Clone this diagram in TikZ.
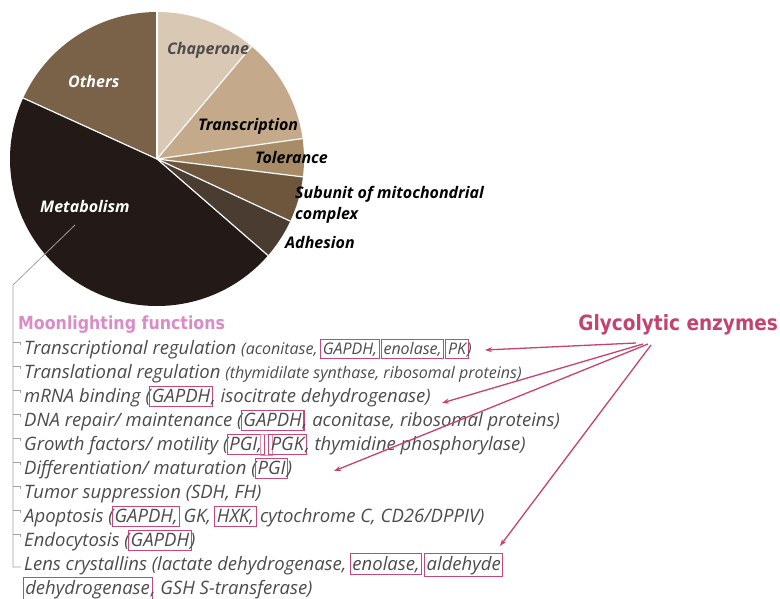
\documentclass[tikz,border=0pt]{standalone}
\usepackage{fontspec}
\setmainfont{Open Sans}
\newfontfamily\headfont[FakeStretch=0.88]{DejaVu Sans}
\usetikzlibrary{arrows.meta}
\definecolor{cA}{HTML}{D8C8B4}
\definecolor{cB}{HTML}{C4AA8A}
\definecolor{cC}{HTML}{A88C68}
\definecolor{cD}{HTML}{6E563C}
\definecolor{cE}{HTML}{4A3C30}
\definecolor{cF}{HTML}{231916}
\definecolor{cG}{HTML}{7A6248}
\definecolor{txt}{HTML}{4C4C4C}
\definecolor{boxc}{HTML}{C4497A}
\definecolor{arrc}{HTML}{C8426F}
\definecolor{moon}{HTML}{D98CC6}
\definecolor{glyc}{HTML}{C4436E}
\definecolor{treec}{HTML}{A0A0A0}
\newcommand\bx[1]{{\setlength\fboxsep{1.6pt}\setlength\fboxrule{1.1pt}\kern-1.6pt\textcolor{boxc}{\fbox{\textcolor{txt}{\rule[-2.6pt]{0pt}{15pt}#1}}}\kern-1.6pt}}
\newcommand\thinbx[1]{{\setlength\fboxsep{2.5pt}\setlength\fboxrule{0.5pt}\kern-3pt\textcolor{boxc!60}{\fbox{\rule[-2.6pt]{0pt}{16pt}#1}}\kern-3pt}}
\newcommand\lst{\fontsize{18.5}{22}\selectfont\itshape}
\newcommand\sml{\fontsize{16}{18}\selectfont}
\begin{document}
\begin{tikzpicture}[x=1pt,y=-1pt,
  item/.style={anchor=base west,inner sep=0pt,text=txt,font=\lst},
  plabel/.style={anchor=west,inner sep=0pt,font=\fontsize{16}{21}\selectfont\bfseries\itshape},
  tree/.style={draw=treec,line width=0.8pt},
  garrow/.style={draw=arrc,line width=1.3pt,-{Stealth[length=7pt,width=5pt]}},
  sep/.style={draw=white,line width=1.2pt}]
\useasboundingbox (0,0) rectangle (780,599);
\fill[white] (0,0) rectangle (780,599);
% pie
\begin{scope}[shift={(157,159)},y=1pt]
  \fill[cA] (0,0) -- (90:147) arc[start angle=90,end angle=50,radius=147] -- cycle;
  \fill[cB] (0,0) -- (50:147) arc[start angle=50,end angle=8,radius=147] -- cycle;
  \fill[cC] (0,0) -- (8:147) arc[start angle=8,end angle=-7,radius=147] -- cycle;
  \fill[cD] (0,0) -- (-7:147) arc[start angle=-7,end angle=-25,radius=147] -- cycle;
  \fill[cE] (0,0) -- (-25:147) arc[start angle=-25,end angle=-41,radius=147] -- cycle;
  \fill[cF] (0,0) -- (-41:147) arc[start angle=-41,end angle=-204.5,radius=147] -- cycle;
  \fill[cG] (0,0) -- (155.5:147) arc[start angle=155.5,end angle=90,radius=147] -- cycle;
  \foreach \a in {90,50,8,-7,-25,-41,155.5} \draw[sep] (0,0) -- (\a:147);
\end{scope}
% pie labels
\node[plabel,text=black!70] (pch) at (167,50) {Chaperone};
\node[plabel,text=white] (pot) at (68,82) {Others};
\node[plabel,text=black] (ptr) at (198,126) {Transcription};
\node[plabel,text=black] (pto) at (255,158) {Tolerance};
\node[plabel,text=black,align=left] (psu) at (295,204.5) {Subunit of mitochondrial\\complex};
\node[plabel,text=black] (pad) at (285,242) {Adhesion};
\node[plabel,text=white] (pme) at (40,207) {Metabolism};
% tree
\coordinate (t0) at (75,225);
\coordinate (t1) at (13,285);
\coordinate (t2) at (13,567);
\coordinate (t3) at (21,567);
\draw[tree] (t0) -- (t1) -- (t2) -- (t3);
\foreach \y in {354,378,402,426,450,474,498,522,546} \draw[tree] (13,\y-12) -- (20,\y-12) -- (20,\y-9);
% headings
\node[anchor=base west,inner sep=0pt,text=moon,font=\headfont\bfseries\fontsize{18}{20}\selectfont] (moonh) at (18,329) {Moonlighting functions};
\node[anchor=base east,inner sep=0pt,text=glyc,font=\headfont\bfseries\fontsize{21}{23}\selectfont] (glych) at (778,330) {Glycolytic enzymes};
% list
\node[item] (l1) at (24,354) {Transcriptional regulation {\sml(aconitase, \bx{GAPDH,} \bx{enolase,} \bx{PK})}};
\node[item] (l2) at (24,378) {Translational regulation {\sml(thymidilate synthase, ribosomal proteins)}};
\node[item] (l3) at (24,402) {mRNA binding (\bx{GAPDH}, isocitrate dehydrogenase)};
\node[item] (l4) at (24,426) {DNA repair/ maintenance (\bx{GAPDH}, aconitase, ribosomal proteins)};
\node[item] (l5) at (24,450) {Growth factors/ motility (\bx{PGI,}\thinbx{\hspace*{0.35em}}\bx{PGK}, thymidine phosphorylase)};
\node[item] (l6) at (24,474) {Differentiation/ maturation (\bx{PGI})};
\node[item] (l7) at (24,498) {Tumor suppression (SDH, FH)};
\node[item] (l8) at (24,522) {Apoptosis (\bx{GAPDH,} GK, \bx{HXK,} cytochrome C, CD26/DPPIV)};
\node[item] (l9) at (24,546) {Endocytosis (\bx{GAPDH})};
\node[item] (l10) at (24,570) {Lens crystallins (lactate dehydrogenase, \bx{enolase,} \bx{aldehyde}};
\node[item] (l11) at (24,594) {\bx{dehydrogenase}, GSH S-transferase)};
% arrows
\coordinate (g1) at (636,343);
\coordinate (g2) at (643,344);
\coordinate (g3) at (648,344);
\coordinate (g4) at (651,345);
\coordinate (e1) at (485,350);
\coordinate (e2) at (442,403);
\coordinate (e3) at (334,471);
\coordinate (e4) at (500,546);
\draw[garrow] (g1) -- (e1);
\draw[garrow] (g2) -- (e2);
\draw[garrow] (g3) -- (e3);
\draw[garrow] (g4) -- (e4);
\end{tikzpicture}
\end{document}
